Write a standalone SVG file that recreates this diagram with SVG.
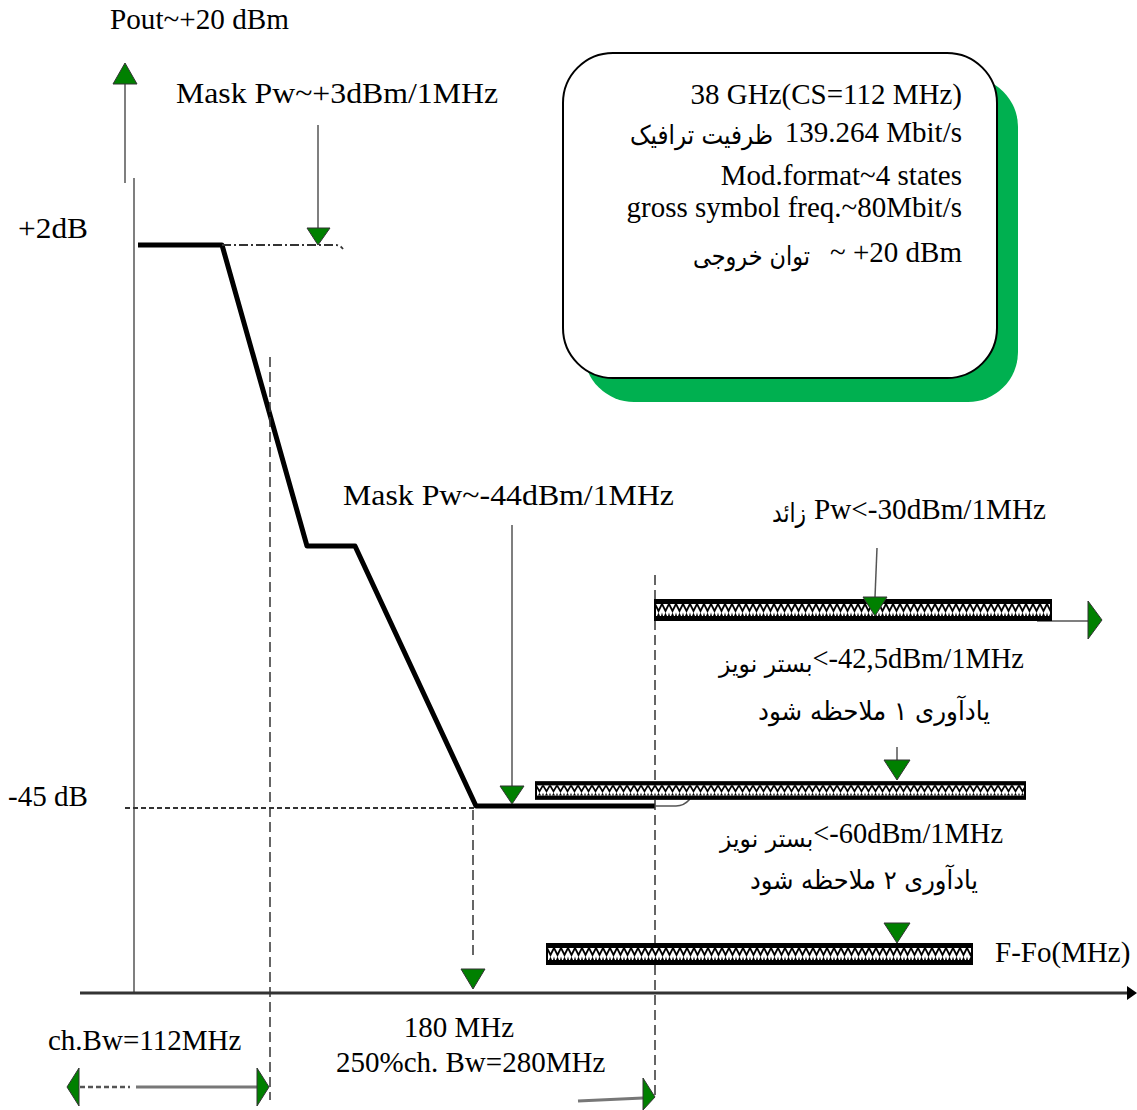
<svg xmlns="http://www.w3.org/2000/svg" width="1137" height="1110" viewBox="0 0 1137 1110">
<style>
.t{font-family:"Liberation Serif","Times New Roman",serif;font-size:29px;fill:#000}
.ar{font-family:"DejaVu Sans","Noto Sans",sans-serif;font-size:26px;fill:#000}
.ars{font-family:"DejaVu Sans","Noto Sans",sans-serif;font-size:24px}
.lead{stroke:#555;stroke-width:1.5;fill:none}
.dash{stroke:#333;stroke-width:1.5;stroke-dasharray:10 5;fill:none}
.tri{fill:#008000;stroke:#333;stroke-width:1}
.thick{stroke:#000;stroke-width:5;fill:none;stroke-linejoin:round}
.bar{fill:url(#hatch);stroke:#000;stroke-width:2}
</style>
<defs>
<pattern id="hatch" patternUnits="userSpaceOnUse" width="7" height="20">
<rect width="7" height="20" fill="#fff"/>
<rect width="7" height="4" fill="#000"/>
<rect y="16" width="7" height="4" fill="#000"/>
<path d="M0,4 L3.5,11 L7,4" stroke="#000" stroke-width="1.8" fill="none"/>
<path d="M2,16 L3.5,12.5 L5,16 Z" fill="#000"/>
<path d="M-1,16 L0,12.5 L1,16 Z M6,16 L7,12.5 L8,16 Z" fill="#000"/>
</pattern>
</defs>

<g id="info-box">
<rect x="584" y="77" width="434" height="325" rx="50" fill="#00B050"/>
<rect x="563" y="53" width="434" height="325" rx="50" fill="#fff" stroke="#000" stroke-width="2"/>
<text class="t" x="962" y="104" text-anchor="end">38 GHz(CS=112 MHz)</text>
<text class="t" x="962" y="142" text-anchor="end">139.264 Mbit/s</text>
<text class="ar" x="630" y="144" textLength="143" lengthAdjust="spacingAndGlyphs">ظرفیت ترافیک</text>
<text class="t" x="962" y="185" text-anchor="end">Mod.format~4 states</text>
<text class="t" x="962" y="217" text-anchor="end">gross symbol freq.~80Mbit/s</text>
<text class="t" x="962" y="262" text-anchor="end">~ +20 dBm</text>
<text class="ar" x="693" y="265" textLength="117" lengthAdjust="spacingAndGlyphs">توان خروجی</text>
</g>

<g id="connectors">
<line x1="125" y1="84" x2="125" y2="183" class="lead"/>
<polygon class="tri" points="125,63 137,84 113,84"/>
<line x1="134" y1="178" x2="134" y2="993" class="lead"/>
<line x1="80" y1="993" x2="1130" y2="993" stroke="#333" stroke-width="3"/>
<polygon points="1137,993 1127,986 1127,1000" fill="#000"/>
<path class="thick" d="M138,245 H222 L307,546 H355 L476,806 H655"/>
<path d="M222,245 H336 Q340,245 343,249" stroke="#333" stroke-width="1.8" stroke-dasharray="9 3 2 3" fill="none"/>
<line x1="125" y1="808" x2="476" y2="808" stroke="#333" stroke-width="2" stroke-dasharray="5 3"/>
<line x1="270" y1="357" x2="270" y2="1100" class="dash"/>
<line x1="655" y1="575" x2="655" y2="1100" class="dash"/>
<line x1="473" y1="810" x2="473" y2="958" class="dash"/>
<polygon class="tri" points="461,969 485,969 473,989"/>
<line x1="318" y1="125" x2="318" y2="228" class="lead"/>
<polygon class="tri" points="307,228 330,228 318,245"/>
<line x1="512" y1="525" x2="512" y2="786" class="lead"/>
<polygon class="tri" points="500,786 524,786 512,804"/>
<line x1="877" y1="548" x2="875" y2="597" class="lead"/>
<line x1="1037" y1="621" x2="1090" y2="621" class="lead"/>
<polygon class="tri" points="1088,601 1102,620 1088,639"/>
<path d="M655,806 H676 Q684,806 690,799" stroke="#555" stroke-width="1.5" fill="none"/>
<line x1="897" y1="747" x2="897" y2="760" class="lead"/>
<polygon class="tri" points="67,1087 79,1068 79,1106"/>
<line x1="80" y1="1087" x2="130" y2="1087" stroke="#555" stroke-width="2.5" stroke-dasharray="5 3"/>
<line x1="136" y1="1087" x2="257" y2="1087" stroke="#777" stroke-width="3"/>
<polygon class="tri" points="257,1068 269,1087 257,1106"/>
<line x1="578" y1="1101" x2="643" y2="1098" stroke="#777" stroke-width="3"/>
<polygon class="tri" points="643,1078 655,1097 643,1110"/>
</g>

<g id="bar-spurious" transform="translate(655,600)"><rect class="bar" width="396" height="20"/></g>
<g id="bar-noise1" transform="translate(536,782) scale(1,0.85)"><rect class="bar" width="489" height="20"/></g>
<g id="bar-noise2" transform="translate(547,944)"><rect class="bar" width="425" height="20"/></g>

<g id="markers">
<polygon class="tri" points="863,597 887,597 875,616"/>
<polygon class="tri" points="884,760 910,760 897,780"/>
<polygon class="tri" points="884,923 910,923 897,943"/>
</g>

<g id="labels">
<text class="t" x="110" y="29" textLength="179" lengthAdjust="spacingAndGlyphs">Pout~+20 dBm</text>
<text class="t" x="176" y="103" textLength="322" lengthAdjust="spacingAndGlyphs">Mask Pw~+3dBm/1MHz</text>
<text class="t" x="18" y="238" textLength="70" lengthAdjust="spacingAndGlyphs">+2dB</text>
<text class="t" x="8" y="806" textLength="80" lengthAdjust="spacingAndGlyphs">-45 dB</text>
<text class="t" x="343" y="505" textLength="331" lengthAdjust="spacingAndGlyphs">Mask Pw~-44dBm/1MHz</text>
<text class="t" x="814" y="519" textLength="232" lengthAdjust="spacingAndGlyphs">Pw&lt;-30dBm/1MHz</text>
<text class="ar" x="772" y="522" textLength="34" lengthAdjust="spacingAndGlyphs">زائد</text>
<text class="t" x="719" y="668" textLength="305" lengthAdjust="spacingAndGlyphs"><tspan class="ars" dy="4">بستر نویز&#x200E;</tspan><tspan dy="-4">&lt;-42,5dBm/1MHz</tspan></text>
<text class="ar" x="758" y="720" textLength="232" lengthAdjust="spacingAndGlyphs">یادآوری ۱ ملاحظه شود</text>
<text class="t" x="720" y="843" textLength="283" lengthAdjust="spacingAndGlyphs"><tspan class="ars" dy="4">بستر نویز&#x200E;</tspan><tspan dy="-4">&lt;-60dBm/1MHz</tspan></text>
<text class="ar" x="750" y="889" textLength="228" lengthAdjust="spacingAndGlyphs">یادآوری ۲ ملاحظه شود</text>
<text class="t" x="995" y="962">F-Fo(MHz)</text>
<text class="t" x="48" y="1050">ch.Bw=112MHz</text>
<text class="t" x="459" y="1037" text-anchor="middle">180 MHz</text>
<text class="t" x="336" y="1072">250%ch. Bw=280MHz</text>
</g>
</svg>
